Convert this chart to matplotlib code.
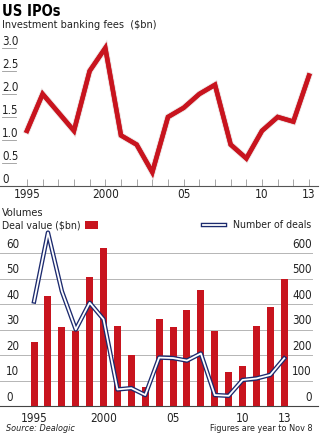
import numpy as np
import matplotlib
matplotlib.use("Agg")
import matplotlib.pyplot as plt
import matplotlib.patheffects as pe
from matplotlib.patches import Rectangle
from matplotlib.lines import Line2D

plt.rcParams['font.family'] = ['DejaVu Sans']
plt.rcParams['font.stretch'] = 'condensed'

years = np.arange(1995, 2014)
fees = [1.2, 2.0, 1.6, 1.2, 2.5, 3.0, 1.1, 0.9, 0.3, 1.5, 1.7, 2.0, 2.2,
        0.9, 0.6, 1.2, 1.5, 1.4, 2.4]
deal_value = [25, 43, 31, 29.5, 50.5, 62, 31.5, 20, 7.5, 34, 31, 37.5, 45.5,
              29.5, 13.5, 15.5, 31.5, 39, 50]
num_deals = [410, 680, 450, 300, 405, 340, 65, 70, 43, 190, 188, 178, 206,
             43, 40, 102, 108, 122, 187]
fee_ticks = [0, 0.5, 1.0, 1.5, 2.0, 2.5, 3.0]
fee_tick_labels = ['0', '0.5', '1.0', '1.5', '2.0', '2.5', '3.0']
vol_ticks = [0, 10, 20, 30, 40, 50, 60]
year_ticks = [1995, 2000, 2005, 2010, 2013]
year_labels = ['1995', '2000', '05', '10', '13']

red = '#c8141e'
navy = '#1c2a6e'
grey_txt = '#222222'

W, H = 325, 440
fig = plt.figure(figsize=(W / 100, H / 100), dpi=100)
fig.patch.set_facecolor('white')

def px_axes(left, top, right, bottom):
    return fig.add_axes([left / W, 1 - bottom / H, (right - left) / W, (bottom - top) / H])

# titles
fig.text(2 / W, 1 - 12 / H, 'US IPOs', fontsize=10.5, fontweight='bold', va='center', ha='left', color='black')
fig.text(2 / W, 1 - 25 / H, 'Investment banking fees  ($bn)', fontsize=7.8, va='center', ha='left', color=grey_txt)

# ---- top chart
ax1 = px_axes(0, 38, 318, 186)
ax1.set_xlim(1993.28, 1993.28 + 318 / 15.67)
ax1.set_ylim(0, 148 / 46)
ax1.plot(years, fees, color=red, lw=3.2, solid_joinstyle='miter', clip_on=False,
         path_effects=[pe.withStroke(linewidth=4.6, foreground='#eadcdc'), pe.Normal()])
for s in ['top', 'right', 'left']:
    ax1.spines[s].set_visible(False)
ax1.spines['bottom'].set_color('#555555')
ax1.spines['bottom'].set_linewidth(0.8)
ax1.set_yticks([])
ax1.set_xticks(year_ticks)
ax1.set_xticklabels(year_labels, fontsize=8.5, color=grey_txt)
ax1.set_xticks(years, minor=True)
ax1.tick_params(axis='x', which='both', direction='in', length=5, width=0.6, color='#999999', pad=1.5)
ytr = ax1.get_yaxis_transform()
for v, lab in zip(fee_ticks, fee_tick_labels):
    ax1.text(2 / 318, v + 0.01, lab, transform=ytr, fontsize=8.3, color=grey_txt, va='bottom', ha='left')
    if v > 0:
        ax1.plot([2 / 318, 16 / 318], [v, v], transform=ytr, color='#999999', lw=0.6, clip_on=False)

# ---- bottom chart
ax2 = px_axes(0, 230, 318, 406)
ax2.set_xlim(1992.55, 1992.55 + 318 / 13.9)
ax2.set_ylim(0, 176 / 2.55)
ax3 = ax2.twinx()
ax3.set_ylim(0, 1760 / 2.55)
ax2.bar(years, deal_value, width=0.5, color=red, zorder=2)
ax3.plot(years, num_deals, color=navy, lw=3.2, clip_on=False, zorder=3)
ax3.plot(years, num_deals, color='white', lw=1.3, clip_on=False, zorder=4)
for a in (ax2, ax3):
    for s in ['top', 'right', 'left']:
        a.spines[s].set_visible(False)
    a.set_yticks([])
    a.tick_params(axis='both', length=0)
ax2.spines['bottom'].set_color('#444444')
ax2.spines['bottom'].set_linewidth(0.8)
ax3.spines['bottom'].set_visible(False)
ax2.set_xticks(year_ticks)
ax2.set_xticklabels(year_labels, fontsize=8.5, color=grey_txt)
ax2.tick_params(axis='x', pad=4)
ytr2 = ax2.get_yaxis_transform()
for v in vol_ticks:
    if v > 0:
        ax2.plot([0, 312 / 318], [v, v], transform=ytr2, color='#b5b5b5', lw=0.7, zorder=1, clip_on=False)
    ax2.text(6 / 318, v + 0.9, str(v), transform=ytr2, fontsize=8.3, color=grey_txt, va='bottom', ha='left')
    ax2.text(312 / 318, v + 0.9, str(v * 10), transform=ytr2, fontsize=8.3, color=grey_txt, va='bottom', ha='right')

# legend and labels
fig.text(2 / W, 1 - 213 / H, 'Volumes', fontsize=7.8, va='center', ha='left', color=grey_txt)
fig.text(2 / W, 1 - 225 / H, 'Deal value ($bn)', fontsize=7.6, va='center', ha='left', color=grey_txt)
fig.patches.append(Rectangle((85 / W, 1 - 229 / H), 13 / W, 8 / H, transform=fig.transFigure,
                             facecolor=red, edgecolor='none'))
fig.lines.append(Line2D([203 / W, 225 / W], [1 - 225 / H] * 2, transform=fig.transFigure, color=navy, lw=3.2))
fig.lines.append(Line2D([203 / W, 225 / W], [1 - 225 / H] * 2, transform=fig.transFigure, color='white', lw=1.3))
fig.text(311 / W, 1 - 225 / H, 'Number of deals', fontsize=7.6, va='center', ha='right', color=grey_txt)

fig.text(6 / W, 1 - 428 / H, 'Source: Dealogic', fontsize=6.5, style='italic', va='center', ha='left', color=grey_txt)
fig.text(313 / W, 1 - 428 / H, 'Figures are year to Nov 8', fontsize=6.5, va='center', ha='right', color=grey_txt)

fig.savefig('out.png', dpi=100, facecolor='white')
